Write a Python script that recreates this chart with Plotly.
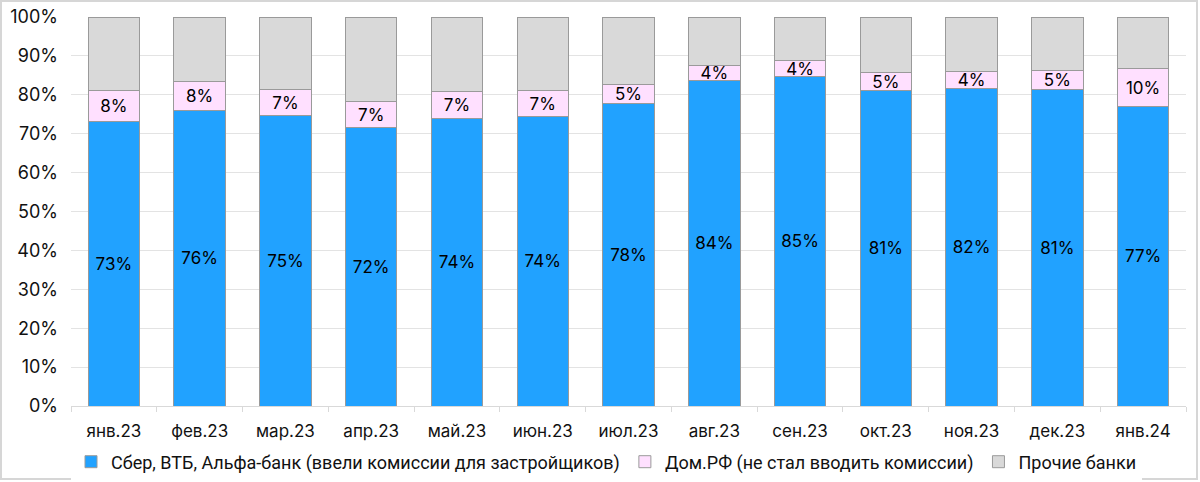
import plotly.graph_objects as go

categories = ["янв.23", "фев.23", "мар.23", "апр.23", "май.23", "июн.23", "июл.23",
              "авг.23", "сен.23", "окт.23", "ноя.23", "дек.23", "янв.24"]
big3 = [73.2, 76.0, 74.6, 71.6, 73.8, 74.4, 77.7, 83.6, 84.6, 81.1, 81.6, 81.4, 76.9]
domrf = [8.0, 7.5, 6.8, 6.6, 7.0, 6.7, 5.0, 4.0, 4.1, 4.6, 4.3, 4.8, 9.9]
other = [round(100 - a - b, 1) for a, b in zip(big3, domrf)]

names = ["Сбер, ВТБ, Альфа-банк (ввели комиссии для застройщиков)",
         "Дом.РФ (не стал вводить комиссии)",
         "Прочие банки"]
colors = ["#21A2FF", "#FFE0FF", "#D9D9D9"]

FONT = "Inter"
LFONT = "Roboto"

def lbl(vals):
    return [f"{int(v + 0.5)}%" for v in vals]

fig = go.Figure()
for vals, name, col, show in [(big3, names[0], colors[0], True),
                              (domrf, names[1], colors[1], True),
                              (other, names[2], colors[2], False)]:
    fig.add_trace(go.Bar(
        x=categories, y=vals, name=name,
        marker=dict(color=col, line=dict(color="#9A9A9A", width=1)),
        text=lbl(vals) if show else None,
        textposition="inside" if show else "none",
        insidetextanchor="middle",
        constraintext="none",
        textfont=dict(family=FONT, size=17, color="#000000"),
        hoverinfo="x+y+name",
    ))

W, H = 1200, 482
L, R, T, B = 71, 14, 17, 76
pw, ph = W - L - R, H - T - B

fig.update_layout(
    barmode="stack",
    bargap=0.4,
    width=W, height=H,
    margin=dict(l=L, r=R, t=T, b=B, autoexpand=False),
    paper_bgcolor="white", plot_bgcolor="white",
    font=dict(family=FONT, size=17, color="#111111"),
    legend=dict(orientation="h", x=(71 - L) / pw, xanchor="left",
                y=-(462 - (H - B)) / ph, yanchor="middle",
                font=dict(family=LFONT, size=18, color="#111111"),
                itemwidth=30, traceorder="normal", tracegroupgap=0),
    xaxis=dict(tickson="boundaries", ticks="outside", ticklen=5, tickcolor="#D9D9D9",
               showline=True, linecolor="#D9D9D9", linewidth=1,
               tickfont=dict(family=FONT, size=17, color="#111111"),
               ticklabelstandoff=10),
    yaxis=dict(range=[0, 100], dtick=10, ticksuffix="%", showgrid=True,
               gridcolor="#E3E3E3", gridwidth=1, zeroline=False,
               tickfont=dict(family=FONT, size=18, color="#111111"),
               ticklabelstandoff=12),
    showlegend=True,
)

fig.add_shape(type="rect", xref="paper", yref="paper",
              x0=(1 - L) / pw, x1=(W - 3 - L) / pw,
              y0=-(H - 3 - (H - B)) / ph, y1=(H - B - 1) / ph,
              line=dict(color="#D6D6D6", width=2), fillcolor="rgba(0,0,0,0)",
              layer="below")

fig.write_html("out.html", config={"displayModeBar": False},
               post_script="document.body.style.margin='0';document.body.style.overflow='hidden';")
